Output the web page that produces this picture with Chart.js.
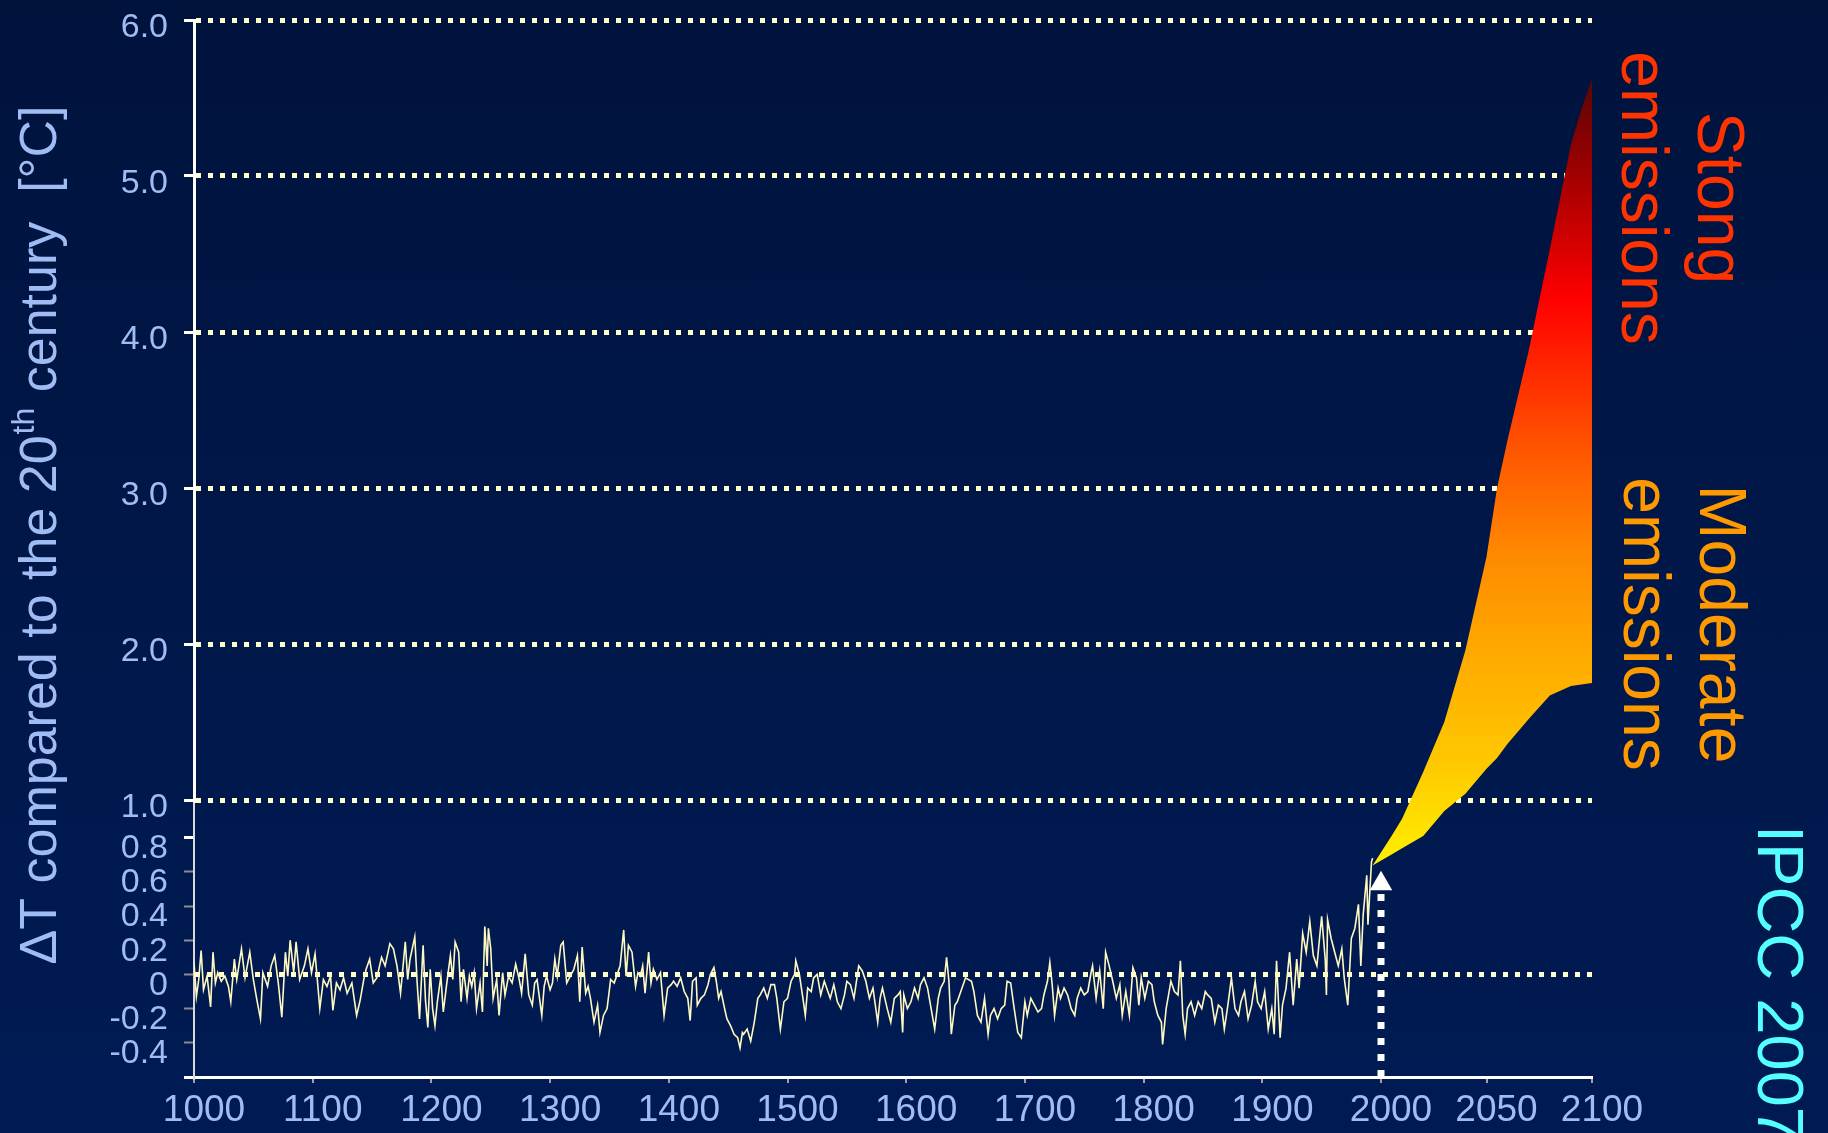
<!DOCTYPE html>
<html>
<head>
<meta charset="utf-8">
<title>Temperature change 1000-2100</title>
<script src="https://cdn.jsdelivr.net/npm/chart.js@4.4.1/dist/chart.umd.min.js"></script>
<style>
  html, body { margin: 0; padding: 0; }
  body {
    width: 1828px;
    height: 1133px;
    overflow: hidden;
    background: linear-gradient(to bottom, #00133d 0%, #001b54 100%);
  }
  #wrap { position: relative; width: 1828px; height: 1133px; }
</style>
</head>
<body>
<div id="wrap"><canvas id="tempChart"></canvas></div>
<script>
// Common styling
const FONT = "'Liberation Sans', Arial, sans-serif";
const labelBlue = '#9fbdf4';
const gridYellow = '#ffffcc';

Chart.defaults.font.family = FONT;
Chart.defaults.animation = false;

// Reconstructed temperature, 1000-1993 (deviation from 20th century, degC)
const reconYears = [
    1000, 1002, 1004, 1006, 1008, 1011, 1014, 1016, 1018, 1020,
    1023, 1026, 1029, 1031, 1034, 1036, 1040, 1043, 1047, 1050,
    1053, 1056, 1058, 1062, 1065, 1068, 1071, 1074, 1077, 1079,
    1081, 1084, 1086, 1089, 1093, 1096, 1099, 1102, 1106, 1109,
    1112, 1115, 1117, 1120, 1123, 1126, 1129, 1133, 1137, 1140,
    1143, 1145, 1148, 1151, 1154, 1158, 1161, 1165, 1168, 1171,
    1174, 1178, 1180, 1182, 1186, 1188, 1190, 1193, 1195, 1197,
    1199, 1201, 1203, 1205, 1208, 1210, 1213, 1216, 1218, 1220,
    1223, 1225, 1227, 1230, 1232, 1234, 1236, 1238, 1241, 1243,
    1245, 1247, 1248, 1250, 1252, 1255, 1257, 1260, 1262, 1265,
    1268, 1271, 1274, 1276, 1279, 1282, 1285, 1287, 1289, 1293,
    1295, 1297, 1300, 1302, 1304, 1306, 1309, 1311, 1314, 1317,
    1320, 1323, 1325, 1327, 1330, 1332, 1334, 1337, 1340, 1342,
    1345, 1348, 1351, 1354, 1356, 1359, 1362, 1364, 1366, 1369,
    1372, 1374, 1376, 1378, 1380, 1383, 1385, 1387, 1390, 1393,
    1396, 1399, 1402, 1404, 1407, 1410, 1413, 1416, 1418, 1420,
    1423, 1424, 1427, 1430, 1433, 1435, 1438, 1440, 1442, 1444,
    1447, 1449, 1452, 1455, 1458, 1460, 1462, 1463, 1466, 1469,
    1472, 1475, 1477, 1480, 1483, 1486, 1489, 1491, 1494, 1497,
    1500, 1503, 1506, 1507, 1510, 1513, 1515, 1517, 1520, 1522,
    1525, 1528, 1531, 1534, 1536, 1539, 1542, 1545, 1548, 1550,
    1553, 1556, 1560, 1563, 1566, 1569, 1572, 1576, 1578, 1580,
    1584, 1587, 1590, 1593, 1595, 1597, 1598, 1601, 1604, 1607,
    1610, 1612, 1615, 1618, 1621, 1624, 1627, 1629, 1632, 1634,
    1636, 1638, 1641, 1643, 1646, 1650, 1655, 1657, 1660, 1663,
    1666, 1669, 1671, 1674, 1677, 1680, 1683, 1685, 1688, 1691,
    1694, 1697, 1700, 1702, 1705, 1708, 1711, 1714, 1716, 1719,
    1721, 1723, 1725, 1728, 1730, 1733, 1736, 1739, 1742, 1744,
    1747, 1750, 1753, 1756, 1757, 1760, 1763, 1766, 1768, 1771,
    1774, 1777, 1780, 1782, 1785, 1788, 1791, 1794, 1796, 1798,
    1801, 1804, 1807, 1809, 1812, 1815, 1816, 1819, 1822, 1823,
    1826, 1829, 1831, 1833, 1835, 1837, 1840, 1843, 1846, 1849,
    1852, 1854, 1857, 1860, 1863, 1866, 1868, 1871, 1874, 1877,
    1880, 1882, 1885, 1888, 1891, 1894, 1896, 1899, 1902, 1905,
    1908, 1910, 1912, 1915, 1917, 1920, 1923, 1926, 1929, 1931,
    1934, 1937, 1940, 1943, 1946, 1950, 1953, 1954, 1955, 1958,
    1961, 1964, 1967, 1969, 1972, 1975, 1978, 1981, 1983, 1985,
    1988, 1989, 1992, 1993
];
const reconTemps = [
    0.07, -0.13, -0.03, 0.14, -0.09, -0.01, -0.19, 0.13, -0.05, 0.01,
    -0.04, -0.01, -0.07, -0.16, 0.09, -0.03, 0.15, -0.02, 0.13, -0.03,
    -0.15, -0.26, 0.01, -0.07, 0.05, 0.11, -0.05, -0.25, 0.13, -0.01,
    0.20, 0.01, 0.19, -0.03, 0.05, 0.15, 0.01, 0.12, -0.20, -0.03,
    -0.07, -0.01, -0.21, -0.05, -0.09, -0.02, -0.11, -0.05, -0.24, -0.15,
    -0.03, 0.03, 0.09, -0.05, -0.02, 0.10, 0.05, 0.18, 0.15, 0.05,
    -0.11, 0.19, -0.03, 0.09, 0.22, -0.05, -0.26, 0.17, -0.15, -0.31,
    0.03, -0.20, -0.30, -0.16, -0.01, -0.22, -0.05, 0.11, -0.03, 0.19,
    0.13, -0.16, 0.03, -0.14, -0.01, -0.07, 0.01, -0.20, -0.05, -0.22,
    0.28, 0.05, 0.27, 0.15, -0.14, -0.03, -0.24, 0.01, -0.12, -0.01,
    -0.05, 0.06, -0.03, -0.11, 0.12, -0.12, -0.18, -0.05, -0.03, -0.24,
    -0.07, -0.01, -0.09, -0.05, 0.09, -0.01, 0.17, 0.19, -0.05, -0.01,
    0.03, 0.11, -0.16, 0.16, -0.11, -0.07, -0.14, -0.28, -0.18, -0.34,
    -0.24, -0.20, -0.03, -0.05, -0.01, 0.05, 0.26, -0.01, 0.17, 0.13,
    -0.07, 0.01, -0.01, 0.05, -0.11, 0.13, -0.05, 0.03, -0.03, 0.01,
    -0.24, -0.08, -0.06, -0.04, -0.07, -0.02, -0.10, -0.14, -0.27, -0.04,
    -0.02, -0.18, -0.14, -0.12, -0.06, 0.00, 0.04, -0.04, -0.14, -0.10,
    -0.20, -0.26, -0.30, -0.35, -0.37, -0.43, -0.34, -0.35, -0.32, -0.39,
    -0.28, -0.14, -0.12, -0.08, -0.14, -0.06, -0.06, -0.14, -0.32, -0.16,
    -0.14, -0.04, 0.00, 0.08, 0.00, -0.14, -0.24, -0.08, -0.10, -0.02,
    0.00, -0.12, -0.04, -0.10, -0.14, -0.06, -0.16, -0.20, -0.12, -0.04,
    -0.06, -0.14, 0.05, 0.02, -0.04, -0.14, -0.08, -0.28, -0.14, -0.08,
    -0.20, -0.28, -0.14, -0.12, -0.10, -0.34, -0.12, -0.20, -0.16, -0.08,
    -0.14, -0.06, -0.02, -0.08, -0.20, -0.32, -0.14, -0.08, -0.04, 0.10,
    -0.04, -0.35, -0.18, -0.16, -0.10, -0.02, -0.04, -0.10, -0.24, -0.28,
    -0.14, -0.35, -0.24, -0.20, -0.26, -0.20, -0.18, -0.04, -0.05, -0.20,
    -0.34, -0.37, -0.16, -0.24, -0.14, -0.18, -0.22, -0.20, -0.12, -0.04,
    0.07, -0.06, -0.24, -0.08, -0.14, -0.08, -0.12, -0.20, -0.24, -0.14,
    -0.08, -0.12, -0.10, 0.02, 0.05, -0.14, 0.02, -0.20, 0.13, 0.05,
    -0.04, -0.14, -0.06, -0.24, -0.10, -0.24, 0.04, -0.02, -0.18, -0.02,
    -0.14, -0.04, -0.06, -0.16, -0.24, -0.28, -0.41, -0.20, -0.08, -0.04,
    -0.10, -0.12, 0.08, -0.24, -0.35, -0.20, -0.16, -0.24, -0.16, -0.20,
    -0.10, -0.12, -0.14, -0.28, -0.18, -0.20, -0.32, -0.18, -0.02, -0.20,
    -0.24, -0.16, -0.10, -0.26, -0.18, -0.04, -0.16, -0.20, -0.10, -0.32,
    -0.20, -0.35, 0.08, -0.37, -0.18, -0.08, 0.13, -0.18, 0.09, -0.08,
    0.24, 0.13, 0.31, 0.11, 0.05, 0.34, 0.09, -0.12, 0.32, 0.21,
    0.13, 0.05, 0.15, -0.02, -0.18, 0.21, 0.27, 0.41, 0.05, 0.35,
    0.58, 0.29, 0.66, 0.68
];

// Projection envelope to 2100 (lower = moderate, upper = strong emissions)
const fanYears = [1996, 2005, 2010, 2020, 2030, 2040, 2050, 2055, 2060, 2070, 2080, 2090, 2095, 2100];
const fanLow   = [0.58, 0.65, 0.69, 0.77, 0.93, 1.04, 1.20, 1.27, 1.36, 1.52, 1.67, 1.73, 1.74, 1.75];
const fanHigh  = [0.58, 0.77, 0.88, 1.18, 1.50, 1.96, 2.56, 3.00, 3.31, 3.88, 4.53, 5.20, 5.43, 5.62];

// "today" arrow
const arrowYears = [2000, 2000];
const arrowTemps = [-0.6, 0.53];

// Tick values
const pastTicks = [1000, 1100, 1200, 1300, 1400, 1500, 1600, 1700, 1800, 1900];
const futureTicks = [2000, 2050, 2100];
const lowTicks = [-0.6, -0.4, -0.2, 0, 0.2, 0.4, 0.6, 0.8];
const highTicks = [1, 2, 3, 4, 5, 6];

const toPoints = (xs, ys) => xs.map((x, i) => ({ x: x, y: ys[i] }));

// Vertical colour ramp of the projection band
const fanGradient = function(context) {
    const chart = context.chart;
    const scale = chart.scales.yHigh;
    if (!chart.chartArea || !scale) return '#ffa500';
    const top = scale.getPixelForValue(Math.max(...fanHigh));
    const bottom = scale.getPixelForValue(fanHigh[0]);
    const g = chart.ctx.createLinearGradient(0, top, 0, bottom);
    g.addColorStop(0.00, '#5a0505');
    g.addColorStop(0.12, '#a00000');
    g.addColorStop(0.28, '#ff0000');
    g.addColorStop(0.47, '#ff5500');
    g.addColorStop(0.60, '#ff8800');
    g.addColorStop(0.71, '#ffa500');
    g.addColorStop(0.87, '#ffc800');
    g.addColorStop(1.00, '#fff000');
    return g;
};

// Rotated annotation texts (axis title, scenario labels, source)
const annotationText = {
    id: 'annotationText',
    afterDraw(chart) {
        const ctx = chart.ctx;
        ctx.save();

        // y-axis title with superscript "th"
        const big = '52px ' + FONT;
        const small = '32px ' + FONT;
        const p1 = '\u0394T compared to the 20';
        const sup = 'th';
        const p2 = ' century  [\u00B0C]';
        ctx.fillStyle = labelBlue;
        ctx.textBaseline = 'alphabetic';
        ctx.textAlign = 'left';
        ctx.font = big;
        const w1 = ctx.measureText(p1).width;
        const w2 = ctx.measureText(p2).width;
        ctx.font = small;
        const ws = ctx.measureText(sup).width;
        ctx.translate(56, 536);
        ctx.rotate(-Math.PI / 2);
        let x0 = -(w1 + ws + w2) / 2;
        ctx.font = big;
        ctx.fillText(p1, x0, 0);
        ctx.font = small;
        ctx.fillText(sup, x0 + w1 + 1, -22);
        ctx.font = big;
        ctx.fillText(p2, x0 + w1 + ws + 2, 0);
        ctx.restore();

        // scenario labels, reading top to bottom
        const vertical = (lines, x, y, color, size, align) => {
            ctx.save();
            ctx.translate(x, y);
            ctx.rotate(Math.PI / 2);
            ctx.font = size + 'px ' + FONT;
            ctx.fillStyle = color;
            ctx.textAlign = align;
            ctx.textBaseline = 'alphabetic';
            lines.forEach((t, i) => ctx.fillText(t, 0, i * 76));
            ctx.restore();
        };
        vertical(['Stong', 'emissions'], 1698, 198, '#ff3300', 66, 'center');
        vertical(['Moderate', 'emissions'], 1700, 624, '#ff9900', 66, 'center');
        vertical(['IPCC 2007'], 1758, 825, '#55ffff', 65, 'left');
    }
};

const xAxis = (min, max, weight, tickList) => ({
    type: 'linear',
    position: 'bottom',
    stack: 'x',
    stackWeight: weight,
    min: min,
    max: max,
    afterBuildTicks: s => { s.ticks = tickList.map(v => ({ value: v })); },
    afterFit: s => { s.height = 56; s.paddingLeft = 0; s.paddingRight = 0; },
    grid: { drawOnChartArea: false, color: '#a0a0a0', lineWidth: 2, tickLength: 6 },
    border: { color: '#ffffff', width: 3 },
    ticks: {
        color: labelBlue,
        font: { family: FONT, size: 37 },
        padding: 6,
        labelOffset: 10,
        maxRotation: 0,
        autoSkip: false,
        callback: v => String(v)
    }
});

const ctx = document.getElementById('tempChart');
new Chart(ctx, {
    type: 'line',
    data: {
        datasets: [
            {
                label: 'today',
                data: toPoints(arrowYears, arrowTemps),
                xAxisID: 'xFut',
                yAxisID: 'yLow',
                borderColor: '#ffffff',
                borderWidth: 7,
                borderDash: [7, 9],
                pointRadius: [0, 13],
                pointStyle: 'triangle',
                pointBackgroundColor: '#ffffff',
                pointBorderWidth: 0,
                fill: false,
                clip: false
            },
            {
                label: 'reconstruction',
                data: toPoints(reconYears, reconTemps),
                xAxisID: 'xPast',
                yAxisID: 'yLow',
                borderColor: '#fff8c0',
                borderWidth: 1.6,
                pointRadius: 0,
                fill: false
            },
            {
                label: 'moderate',
                data: toPoints(fanYears, fanLow),
                xAxisID: 'xFut',
                yAxisID: 'yHigh',
                borderColor: 'transparent',
                pointRadius: 0,
                fill: false,
                clip: false
            },
            {
                label: 'strong',
                data: toPoints(fanYears, fanHigh),
                xAxisID: 'xFut',
                yAxisID: 'yHigh',
                borderColor: 'transparent',
                backgroundColor: fanGradient,
                pointRadius: 0,
                fill: '-1',
                clip: false
            }
        ]
    },
    options: {
        responsive: true,
        maintainAspectRatio: false,
        layout: { padding: { left: 0, right: 236, top: 20, bottom: 0 } },
        plugins: {
            legend: { display: false },
            tooltip: { enabled: false }
        },
        scales: {
            xPast: xAxis(1000, 2000, 1187, pastTicks),
            xFut: xAxis(2000, 2100, 211, futureTicks),
            yLow: {
                type: 'linear',
                position: 'left',
                stack: 'y',
                stackWeight: 277,
                min: -0.6,
                max: 1.02,
                afterBuildTicks: s => { s.ticks = lowTicks.map(v => ({ value: v })); },
                afterFit: s => { s.width = 194; s.paddingTop = 0; s.paddingBottom = 0; },
                grid: {
                    color: c => (c.tick && c.tick.value === 0 ? gridYellow : 'transparent'),
                    lineWidth: 5,
                    tickLength: 10,
                    tickColor: c => (c.tick && (c.tick.value === 0.8 || c.tick.value === -0.6) ? '#ffffff' : '#8c8c8c'),
                    tickWidth: c => (c.tick && (c.tick.value === 0.8 || c.tick.value === -0.6) ? 3 : 2)
                },
                border: { color: '#d8d8d8', width: 2, dash: [5, 7] },
                ticks: {
                    color: labelBlue,
                    font: { family: FONT, size: 34 },
                    padding: 16,
                    labelOffset: 11,
                    autoSkip: false,
                    callback: v => (v === -0.6 ? '' : (v === 0 ? '0' : v.toFixed(1)))
                }
            },
            yHigh: {
                type: 'linear',
                position: 'left',
                stack: 'y',
                stackWeight: 780,
                min: 1,
                max: 6,
                afterBuildTicks: s => { s.ticks = highTicks.map(v => ({ value: v })); },
                afterFit: s => { s.width = 194; s.paddingTop = 0; s.paddingBottom = 0; },
                grid: {
                    color: gridYellow,
                    lineWidth: 5,
                    tickLength: 10,
                    tickColor: '#ffffff',
                    tickWidth: 3
                },
                border: { color: '#ffffff', width: 3, dash: [5, 7] },
                ticks: {
                    color: labelBlue,
                    font: { family: FONT, size: 34 },
                    padding: 16,
                    labelOffset: 8,
                    autoSkip: false,
                    callback: v => v.toFixed(1)
                }
            }
        }
    },
    plugins: [annotationText]
});
</script>
</body>
</html>
